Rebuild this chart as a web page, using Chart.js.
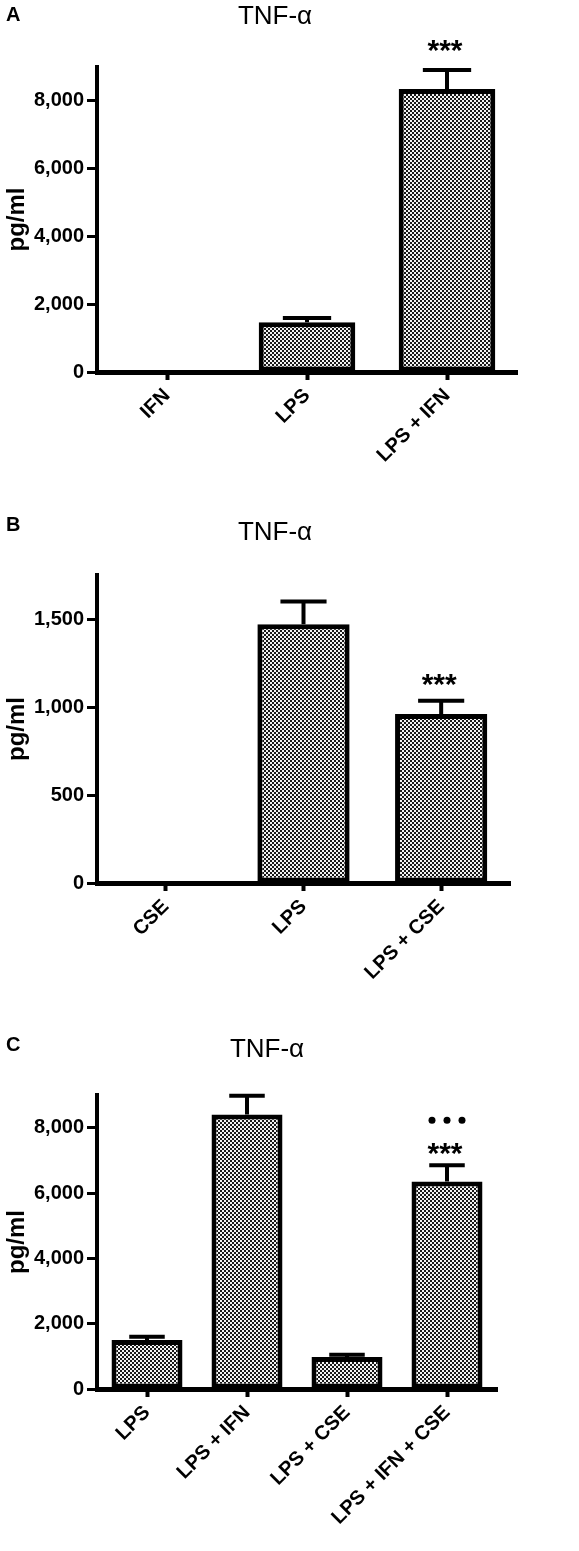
<!DOCTYPE html>
<html>
<head>
<meta charset="utf-8">
<script src="https://cdn.jsdelivr.net/npm/chart.js@4.4.0/dist/chart.umd.min.js"></script>
<style>
body { margin: 0; background: #fff; }
canvas { position: absolute; left: 0; }
</style>
</head>
<body>
<canvas id="chartA" width="579" height="470" style="top:0px"></canvas>
<canvas id="chartB" width="579" height="560" style="top:470px"></canvas>
<canvas id="chartC" width="579" height="521" style="top:1030px"></canvas>
<script>
// panel A
const labelsA = ['IFN', 'LPS', 'LPS + IFN'];
const meansA = [0, 1470, 8350];
const semA = [0, 120, 560];
const sigA = ['', '', '***'];
const yTicksA = [0, 2000, 4000, 6000, 8000];

// panel B
const labelsB = ['CSE', 'LPS', 'LPS + CSE'];
const meansB = [0, 1470, 960];
const semB = [0, 130, 75];
const sigB = ['', '', '***'];
const yTicksB = [0, 500, 1000, 1500];

// panel C
const labelsC = ['LPS', 'LPS + IFN', 'LPS + CSE', 'LPS + IFN + CSE'];
const meansC = [1500, 8400, 980, 6350];
const semC = [100, 580, 70, 500];
const sigC = ['', '', '', '***'];
const dotsC = [false, false, false, true];
const yTicksC = [0, 2000, 4000, 6000, 8000];

const FONT = "'Liberation Sans', Arial, sans-serif";

function makePattern() {
    const c = document.createElement('canvas');
    c.width = 4;
    c.height = 4;
    const g = c.getContext('2d');
    g.fillStyle = '#f4f4f4';
    g.fillRect(0, 0, 4, 4);
    g.fillStyle = '#1a1a1a';
    g.fillRect(0, 0, 2, 2);
    g.fillRect(2, 2, 2, 2);
    return g.createPattern(c, 'repeat');
}

// error bars, stars and dots on top of the bars
const errorBars = {
    id: 'errorBars',
    afterDatasetsDraw(chart, args, opts) {
        const ctx = chart.ctx;
        const yScale = chart.scales.y;
        const ds = chart.data.datasets[0];
        const meta = chart.getDatasetMeta(0);
        ctx.save();
        ctx.strokeStyle = '#000';
        ctx.fillStyle = '#000';
        ctx.lineWidth = 4;
        meta.data.forEach((bar, i) => {
            const err = ds.errors[i];
            if (!err) return;
            const top = yScale.getPixelForValue(ds.data[i] + err);
            const half = bar.width * 0.25;
            ctx.beginPath();
            ctx.moveTo(bar.x, bar.y);
            ctx.lineTo(bar.x, top);
            ctx.moveTo(bar.x - half, top);
            ctx.lineTo(bar.x + half, top);
            ctx.stroke();

            if (ds.sig[i]) {
                ctx.font = 'bold 30px ' + FONT;
                ctx.textAlign = 'center';
                ctx.textBaseline = 'alphabetic';
                ctx.fillText(ds.sig[i], bar.x - 2, top - opts.starGap + 16);
            }
            if (ds.dots && ds.dots[i]) {
                const dy = top - opts.dotGap;
                [-15, 0, 15].forEach(dx => {
                    ctx.beginPath();
                    ctx.arc(bar.x + dx, dy, 3.5, 0, Math.PI * 2);
                    ctx.fill();
                });
            }
        });
        ctx.restore();
    }
};

// panel letter and title
const panelText = {
    id: 'panelText',
    afterDraw(chart, args, opts) {
        const ctx = chart.ctx;
        ctx.save();
        ctx.fillStyle = '#000';
        ctx.textBaseline = 'middle';
        ctx.textAlign = 'left';
        ctx.font = 'bold 20px ' + FONT;
        ctx.fillText(opts.letter, 6, opts.letterY);
        ctx.textAlign = 'center';
        ctx.font = '26px ' + FONT;
        ctx.fillText('TNF-\u03b1', opts.titleX, opts.titleY);
        ctx.restore();
    }
};

function makeChart(id, labels, means, sems, sig, dots, yTicks, yMax, geo) {
    return new Chart(document.getElementById(id), {
        type: 'bar',
        data: {
            labels: labels,
            datasets: [{
                data: means,
                errors: sems,
                sig: sig,
                dots: dots,
                backgroundColor: makePattern(),
                borderColor: '#000',
                borderWidth: 5,
                borderSkipped: false,
                categoryPercentage: 1,
                barPercentage: geo.barPct
            }]
        },
        options: {
            responsive: false,
            animation: false,
            devicePixelRatio: 1,
            layout: {
                padding: { top: geo.top, right: geo.right, left: 3, bottom: 0 }
            },
            plugins: {
                legend: { display: false },
                tooltip: { enabled: false },
                errorBars: { starGap: geo.starGap, dotGap: geo.dotGap },
                panelText: { letter: geo.letter, letterY: geo.letterY, titleX: geo.titleX, titleY: geo.titleY }
            },
            scales: {
                x: {
                    offset: true,
                    grid: { drawOnChartArea: false, drawTicks: true, tickLength: 8, tickWidth: 4, color: '#000', offset: false },
                    border: { display: true, width: 5, color: '#000' },
                    ticks: {
                        autoSkip: false,
                        minRotation: 45,
                        maxRotation: 45,
                        padding: 4,
                        color: '#000',
                        font: { family: FONT, size: 20, weight: 'bold' }
                    },
                    afterFit(scale) { scale.height = geo.xHeight; }
                },
                y: {
                    min: 0,
                    max: yMax,
                    grid: { drawOnChartArea: false, drawTicks: true, tickLength: 10, tickWidth: 3, color: '#000' },
                    border: { display: true, width: 4, color: '#000' },
                    ticks: {
                        padding: 3,
                        color: '#000',
                        font: { family: FONT, size: 20, weight: 'bold' },
                        callback: v => v.toLocaleString('en-US')
                    },
                    afterBuildTicks(axis) { axis.ticks = yTicks.map(v => ({ value: v })); },
                    title: {
                        display: true,
                        text: 'pg/ml',
                        color: '#000',
                        padding: 0,
                        font: { family: FONT, size: 24, weight: 'bold' }
                    },
                    afterFit(scale) { scale.width = 94; }
                }
            }
        },
        plugins: [errorBars, panelText]
    });
}

makeChart('chartA', labelsA, meansA, semA, sigA, null, yTicksA, 9000, {
    barPct: 0.69, top: 67, right: 62, xHeight: 98, starGap: 26, dotGap: 0,
    letter: 'A', letterY: 15, titleX: 275, titleY: 17
});
makeChart('chartB', labelsB, meansB, semB, sigB, null, yTicksB, 1750, {
    barPct: 0.67, top: 105, right: 69, xHeight: 147, starGap: 23, dotGap: 0,
    letter: 'B', letterY: 55, titleX: 275, titleY: 63
});
makeChart('chartC', labelsC, meansC, semC, sigC, dotsC, yTicksC, 9000, {
    barPct: 0.71, top: 65, right: 82, xHeight: 162, starGap: 18, dotGap: 45,
    letter: 'C', letterY: 15, titleX: 267, titleY: 20
});
</script>
</body>
</html>
